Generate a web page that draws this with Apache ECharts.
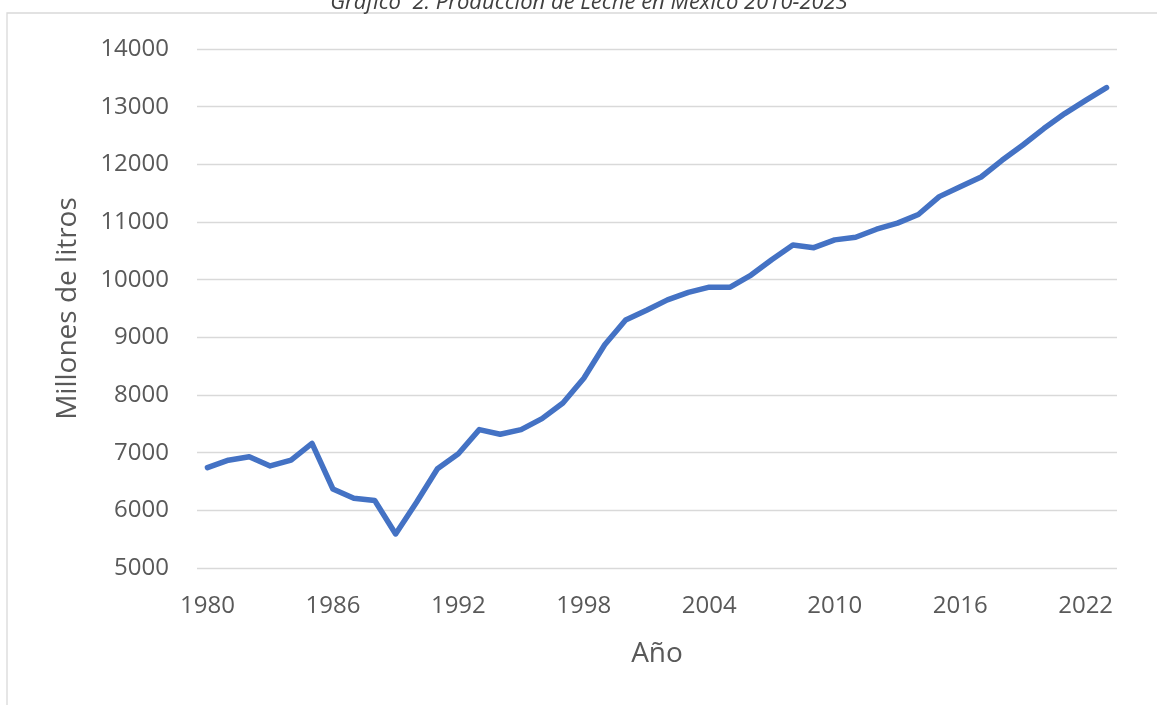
<!DOCTYPE html>
<html>
<head>
<meta charset="utf-8">
<script src="https://cdn.jsdelivr.net/npm/echarts@6/dist/echarts.min.js"></script>
<style>
html,body{margin:0;padding:0;background:#fff;}
#c{width:1157px;height:705px;}
</style>
</head>
<body>
<div id="c"></div>
<script>
const titleText = 'Gráfico  2. Producción de Leche en México 2010-2023';
const yAxisName = 'Millones de litros';
const xAxisName = 'Año';
const years = [];
for (let y = 1980; y <= 2023; y++) years.push(String(y));
const production = [
  6740, 6870, 6930, 6770, 6870, 7160, 6370, 6210, 6170, 5590,
  6140, 6720, 6980, 7400, 7320, 7400, 7590, 7860, 8290, 8870,
  9300, 9470, 9650, 9780, 9870, 9870, 10080, 10350, 10600, 10555,
  10690, 10735, 10875, 10980, 11130, 11440, 11610, 11780, 12070, 12335,
  12620, 12880, 13110, 13330
];
const yMin = 5000, yMax = 14000, yStep = 1000;

const chart = echarts.init(document.getElementById('c'), null, {renderer: 'canvas'});
const font = "'Open Sans', 'Noto Sans', sans-serif";
chart.setOption({
  backgroundColor: '#ffffff',
  animation: false,
  graphic: [
    {type: 'rect', shape: {x: 7, y: 13, width: 1300, height: 900}, style: {fill: 'none', stroke: '#d9d9d9', lineWidth: 1.3}, silent: true, z: -1},
    {type: 'text', x: 589, y: 3, style: {text: titleText, fill: '#404040', font: "italic 22px 'Open Sans', sans-serif", textAlign: 'center', textVerticalAlign: 'middle'}}
  ],
  grid: {left: 197, right: 40, top: 49, bottom: 137, containLabel: false},
  xAxis: {
    type: 'category',
    data: years,
    boundaryGap: true,
    name: xAxisName,
    nameLocation: 'middle',
    nameGap: 72,
    nameTextStyle: {color: '#595959', fontSize: 28, fontFamily: font},
    axisLine: {show: false},
    axisTick: {show: false},
    axisLabel: {interval: 5, color: '#595959', fontSize: 24, fontFamily: font, margin: 26},
    splitLine: {show: false}
  },
  yAxis: {
    type: 'value',
    min: yMin, max: yMax, interval: yStep,
    name: yAxisName,
    nameLocation: 'middle',
    nameRotate: 90,
    nameGap: 115,
    nameTextStyle: {color: '#595959', fontSize: 28, fontFamily: font},
    axisLine: {show: false},
    axisTick: {show: false},
    axisLabel: {color: '#595959', fontSize: 24, fontFamily: font, margin: 28, formatter: v => String(v)},
    splitLine: {show: true, lineStyle: {color: '#d9d9d9', width: 1.3}}
  },
  series: [{
    type: 'line',
    data: production,
    showSymbol: false,
    symbol: 'none',
    lineStyle: {color: '#4472C4', width: 5.5, cap: 'round', join: 'round'},
    itemStyle: {color: '#4472C4'}
  }]
});
</script>
</body>
</html>
